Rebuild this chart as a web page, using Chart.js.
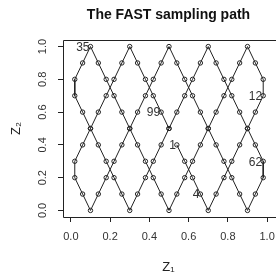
<!DOCTYPE html>
<html>
<head>
<meta charset="utf-8">
<script src="https://cdn.jsdelivr.net/npm/chart.js@4"></script>
<style>
  html, body { margin: 0; padding: 0; background: #fff; }
  #wrap { width: 279px; height: 275px; }
</style>
</head>
<body>
<div id="wrap"><canvas id="chart" width="279" height="275"></canvas></div>
<script>
// sampling path, points 1..100 in order
const z1 = [
  0.54, 0.58, 0.62, 0.66, 0.70, 0.74, 0.78, 0.82, 0.86, 0.90, 0.94, 0.98,
  0.98, 0.94, 0.90, 0.86, 0.82, 0.78, 0.74, 0.70, 0.66, 0.62, 0.58, 0.54, 0.50,
  0.46, 0.42, 0.38, 0.34, 0.30, 0.26, 0.22, 0.18, 0.14, 0.10, 0.06, 0.02,
  0.02, 0.06, 0.10, 0.14, 0.18, 0.22, 0.26, 0.30, 0.34, 0.38, 0.42, 0.46, 0.50,
  0.54, 0.58, 0.62, 0.66, 0.70, 0.74, 0.78, 0.82, 0.86, 0.90, 0.94, 0.98,
  0.98, 0.94, 0.90, 0.86, 0.82, 0.78, 0.74, 0.70, 0.66, 0.62, 0.58, 0.54, 0.50,
  0.46, 0.42, 0.38, 0.34, 0.30, 0.26, 0.22, 0.18, 0.14, 0.10, 0.06, 0.02,
  0.02, 0.06, 0.10, 0.14, 0.18, 0.22, 0.26, 0.30, 0.34, 0.38, 0.42, 0.46, 0.50,
];
const z2 = [
  0.4, 0.3, 0.2, 0.1, 0.0,
  0.1, 0.2, 0.3, 0.4, 0.5, 0.6, 0.7, 0.8, 0.9, 1.0,
  0.9, 0.8, 0.7, 0.6, 0.5, 0.4, 0.3, 0.2, 0.1, 0.0,
  0.1, 0.2, 0.3, 0.4, 0.5, 0.6, 0.7, 0.8, 0.9, 1.0,
  0.9, 0.8, 0.7, 0.6, 0.5, 0.4, 0.3, 0.2, 0.1, 0.0,
  0.1, 0.2, 0.3, 0.4, 0.5, 0.6, 0.7, 0.8, 0.9, 1.0,
  0.9, 0.8, 0.7, 0.6, 0.5, 0.4, 0.3, 0.2, 0.1, 0.0,
  0.1, 0.2, 0.3, 0.4, 0.5, 0.6, 0.7, 0.8, 0.9, 1.0,
  0.9, 0.8, 0.7, 0.6, 0.5, 0.4, 0.3, 0.2, 0.1, 0.0,
  0.1, 0.2, 0.3, 0.4, 0.5, 0.6, 0.7, 0.8, 0.9, 1.0,
  0.9, 0.8, 0.7, 0.6, 0.5,
];
const tickValues = [0, 0.2, 0.4, 0.6, 0.8, 1.0];
const labeledPoints = [1, 4, 12, 35, 62, 99];

const fontFamily = "'Liberation Sans', Arial, sans-serif";
const ink = "#222";

// numbers written just left of some of the points
const pointLabels = {
  id: "pointLabels",
  afterDatasetsDraw(chart) {
    const ctx = chart.ctx;
    const meta = chart.getDatasetMeta(0);
    ctx.save();
    ctx.font = `12px ${fontFamily}`;
    ctx.fillStyle = "#333";
    ctx.textAlign = "right";
    ctx.textBaseline = "middle";
    labeledPoints.forEach((n) => {
      const pt = meta.data[n - 1];
      ctx.fillText(String(n), pt.x - 1, pt.y + 1);
    });
    ctx.restore();
  },
};

// R style box around the plot region
const plotBox = {
  id: "plotBox",
  afterDraw(chart) {
    const { ctx, chartArea: a } = chart;
    ctx.save();
    ctx.strokeStyle = ink;
    ctx.lineWidth = 1;
    ctx.beginPath();
    ctx.moveTo(Math.round(a.right) + 2, Math.round(a.bottom) + 0.5);
    ctx.lineTo(Math.round(a.left) + 0.5, Math.round(a.bottom) + 0.5);
    ctx.lineTo(Math.round(a.left) + 0.5, Math.round(a.top) + 0.5);
    ctx.lineTo(Math.round(a.right) + 2, Math.round(a.top) + 0.5);
    ctx.stroke();
    ctx.restore();
  },
};

new Chart(document.getElementById("chart"), {
  type: "scatter",
  data: {
    datasets: [
      {
        data: z1.map((x, i) => ({ x, y: z2[i] })),
        showLine: true,
        borderColor: ink,
        borderWidth: 1,
        pointRadius: 2.2,
        pointBorderWidth: 1,
        pointBorderColor: ink,
        pointBackgroundColor: "rgba(0,0,0,0)",
        clip: false,
      },
    ],
  },
  options: {
    responsive: false,
    animation: false,
    layout: { padding: 0 },
    plugins: {
      legend: { display: false },
      tooltip: { enabled: false },
      title: {
        display: true,
        text: "The FAST sampling path",
        fullSize: false,
        color: "#111",
        font: { family: fontFamily, size: 14, weight: "bold" },
        padding: { top: 6.6, bottom: 16.6 },
      },
    },
    scales: {
      x: {
        type: "linear",
        min: -0.04,
        max: 1.035,
        afterBuildTicks: (s) => {
          s.ticks = tickValues.map((v) => ({ value: v }));
        },
        afterFit: (s) => {
          s.height = 58;
          s.paddingLeft = 0;
          s.paddingRight = 0;
        },
        grid: { drawOnChartArea: false, drawTicks: true, tickLength: 5, color: ink },
        border: { display: false },
        ticks: {
          color: "#333",
          font: { family: fontFamily, size: 11 },
          padding: 8,
          maxRotation: 0,
          autoSkip: false,
          callback: (v) => v.toFixed(1),
        },
        title: {
          display: true,
          text: "Z₁",
          color: ink,
          font: { family: fontFamily, size: 13 },
          padding: { top: 0, bottom: 0 },
        },
      },
      y: {
        type: "linear",
        min: -0.04,
        max: 1.04,
        afterBuildTicks: (s) => {
          s.ticks = tickValues.map((v) => ({ value: v }));
        },
        afterFit: (s) => {
          s.width = 63;
          s.paddingTop = 0;
          s.paddingBottom = 0;
        },
        grid: { drawOnChartArea: false, drawTicks: true, tickLength: 5, color: ink },
        border: { display: false },
        ticks: {
          color: "#333",
          font: { family: fontFamily, size: 11 },
          padding: 7,
          minRotation: 90,
          maxRotation: 90,
          crossAlign: "center",
          autoSkip: false,
          callback: (v) => v.toFixed(1),
        },
        title: {
          display: true,
          text: "Z₂",
          color: ink,
          font: { family: fontFamily, size: 13 },
          padding: { top: 9, bottom: 0 },
        },
      },
    },
  },
  plugins: [pointLabels, plotBox],
});
</script>
</body>
</html>
